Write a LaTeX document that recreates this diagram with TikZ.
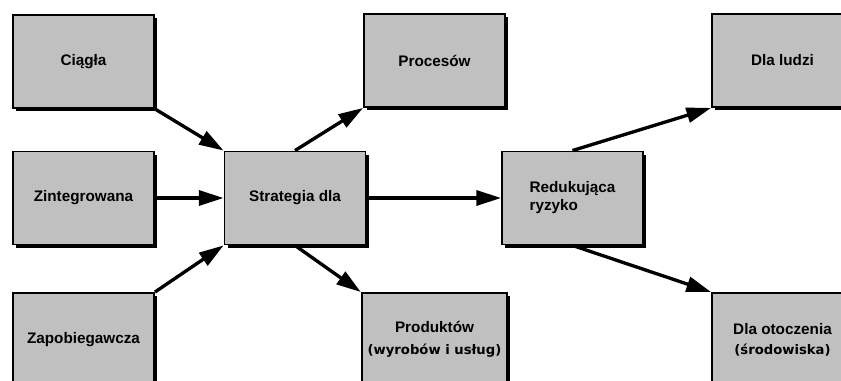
\documentclass[tikz,border=0pt]{standalone}
\usepackage{fontspec}
\setmainfont{Liberation Sans}
\newfontfamily\notefont{DejaVu Sans}
\usetikzlibrary{arrows.meta,shadows}
\definecolor{boxgray}{RGB}{192,192,192}

\begin{document}
\begin{tikzpicture}[x=0.02cm, y=-0.02cm,
    box/.style={draw, line width=1.1pt, fill=boxgray,
      minimum width=2.82cm, minimum height=1.86cm, align=center,
      font=\bfseries\fontsize{8.7}{12.5}\selectfont,
      drop shadow={shadow xshift=1.8pt, shadow yshift=-1.8pt, fill=black, opacity=1}},
    arr/.style={-{Triangle[length=14pt,width=8.5pt]}, line width=1.9pt}]
    \useasboundingbox (0,0) rectangle (841,381);
    \clip (0,0) rectangle (841,381);
    % Cechy
    \node[box] (ciagla) at (83.5,61.5) {Ciągła};
    \node[box] (zint) at (83.5,198) {Zintegrowana};
    \node[box] (zapob) at (83.5,339.5) {Zapobiegawcza};
    % Strategia
    \node[box] (strat) at (295,198) {Strategia dla};
    \node[box] (proc) at (434.5,60.5) {Procesów};
    \node[box] (prod) at (434.5,339.5) {Produktów\\{\notefont\fontsize{7.5}{9}\selectfont (wyrobów i usług)}};
    % Ryzyko
    \node[box, align=left, font=\bfseries\fontsize{8.7}{10.3}\selectfont] (ryz) at (572.5,198) {Redukująca\\ryzyko};
    \node[box] (ludzi) at (782.5,60.5) {Dla ludzi};
    \node[box, font=\bfseries\fontsize{8.7}{11.3}\selectfont] (otocz) at (782.5,339.5) {Dla otoczenia\\{\notefont\fontsize{7.5}{9}\selectfont (środowiska)}};
    % Strzalki
    \draw[arr] (ciagla.south east) -- (strat.north west);
    \draw[arr] (zint) -- (strat);
    \draw[arr] (zapob.north east) -- (strat.south west);
    \draw[arr] (strat.north) -- (proc.south west);
    \draw[arr] (strat.south) -- (prod.north west);
    \draw[arr] (strat) -- (ryz);
    \draw[arr] (ryz.north) -- (ludzi.south west);
    \draw[arr] (ryz.south) -- (otocz.north west);
\end{tikzpicture}
\end{document}
